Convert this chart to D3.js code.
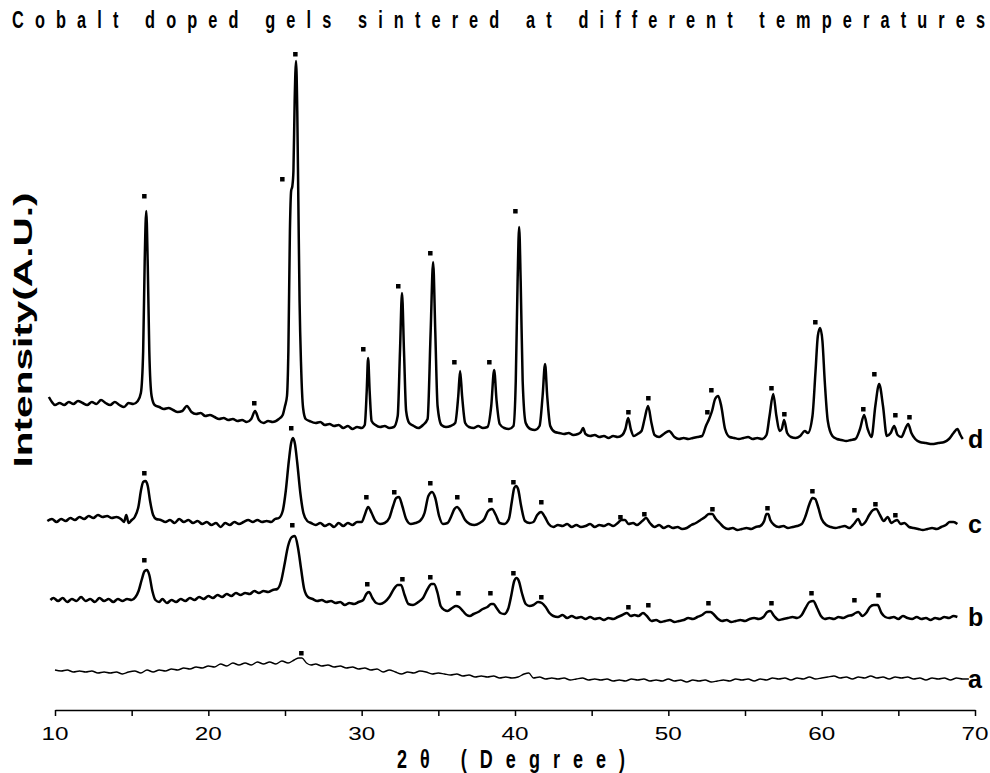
<!DOCTYPE html>
<html><head><meta charset="utf-8">
<script src="https://cdn.jsdelivr.net/npm/d3@7"></script>
<style>body{margin:0;background:#fff;} svg{display:block;}</style>
</head><body>
<svg id="chart" width="990" height="773"></svg>
<script>
// ---- DATA (2θ in degrees, intensity in A.U. relative to each pattern's own baseline) ----
const titleText = "Cobalt doped gels sintered at different temperatures";
const xAxisTitle = "2θ (Degree)";
const yAxisTitle = "Intensity(A.U.)";
const xTickValues = [10,15,20,25,30,35,40,45,50,55,60,65,70];
const xTickLabels = ["10","20","30","40","50","60","70"];
const patternNames = ["a","b","c","d"];
const patternOffsets = [40,111,190,309];

const patternA = [[10.0,0],[10.4,-1],[10.8,0],[11.2,-2],[11.6,-1],[12.0,-2],[12.4,-1],[12.8,-3],[13.2,-2],[13.6,-3],[14.0,-2],[14.4,-4],[14.8,-2],[15.2,-1],[15.6,-3],[16.0,0],[16.4,-2],[16.8,0],[17.2,-1],[17.6,1],[18.0,0],[18.4,2],[18.8,1],[19.2,3],[19.6,2],[20.0,4],[20.4,3],[20.8,6],[21.2,4],[21.6,7],[22.0,5],[22.4,7],[22.8,5],[23.2,8],[23.6,6],[24.0,8],[24.4,6],[24.8,9],[25.2,7],[25.6,10],[25.9,12],[26.1,12],[26.4,7],[26.7,5],[27.0,6],[27.4,4],[27.8,5],[28.2,3],[28.6,4],[29.0,2],[29.4,3],[29.8,1],[30.2,2],[30.6,0],[31.0,1],[31.4,-2],[31.8,0],[32.2,-2],[32.6,-4],[33.0,-2],[33.4,-3],[33.8,-1],[34.2,-2],[34.6,-4],[35.0,-3],[35.4,-4],[35.8,-5],[36.2,-4],[36.6,-6],[37.0,-5],[37.4,-7],[37.8,-6],[38.2,-7],[38.6,-6],[39.0,-8],[39.4,-7],[39.8,-8],[40.2,-7],[40.6,-4],[40.9,-3],[41.2,-8],[41.6,-7],[42.0,-9],[42.4,-8],[42.8,-9],[43.2,-8],[43.6,-10],[44.0,-9],[44.4,-8],[44.8,-10],[45.2,-9],[45.6,-10],[46.0,-9],[46.4,-11],[46.8,-10],[47.2,-11],[47.6,-9],[48.0,-10],[48.4,-9],[48.8,-11],[49.2,-10],[49.6,-11],[50.0,-9],[50.4,-11],[50.8,-10],[51.2,-12],[51.6,-10],[52.0,-11],[52.4,-10],[52.8,-12],[53.2,-11],[53.6,-10],[54.0,-11],[54.4,-9],[54.8,-10],[55.2,-9],[55.6,-11],[56.0,-9],[56.4,-10],[56.8,-8],[57.2,-9],[57.6,-8],[58.0,-10],[58.4,-8],[58.8,-9],[59.2,-7],[59.6,-9],[60.0,-8],[60.4,-7],[60.8,-6],[61.2,-8],[61.6,-7],[62.0,-9],[62.4,-7],[62.8,-8],[63.2,-6],[63.6,-8],[64.0,-7],[64.4,-9],[64.8,-7],[65.2,-8],[65.6,-7],[66.0,-9],[66.4,-8],[66.8,-10],[67.2,-8],[67.6,-9],[68.0,-8],[68.4,-10],[68.8,-8],[69.2,-9],[69.6,-9]];

const patternB = [[9.7,-1],[9.9,1],[10.2,-2],[10.5,1],[10.8,-3],[11.1,0],[11.4,-2],[11.7,2],[12.0,-2],[12.3,0],[12.6,-3],[12.9,1],[13.2,-2],[13.5,0],[13.8,-3],[14.1,0],[14.4,-2],[14.7,0],[15.0,-1],[15.25,2],[15.45,8],[15.65,19],[15.85,28],[16.0,29],[16.15,24],[16.35,8],[16.55,-1],[16.8,-3],[17.0,0],[17.3,-4],[17.6,-1],[17.9,-3],[18.2,0],[18.5,-2],[18.8,1],[19.1,-1],[19.4,2],[19.7,0],[20.0,3],[20.3,1],[20.6,4],[20.9,2],[21.2,5],[21.5,3],[21.8,6],[22.1,4],[22.4,6],[22.7,5],[23.0,8],[23.3,6],[23.6,8],[23.9,7],[24.2,9],[24.5,10],[24.75,18],[24.95,33],[25.2,53],[25.45,62],[25.65,63],[25.85,51],[26.05,30],[26.25,10],[26.5,2],[26.8,0],[27.1,-2],[27.4,-1],[27.7,-3],[28.0,-2],[28.3,-4],[28.6,-3],[28.9,-6],[29.2,-4],[29.5,-5],[29.8,-3],[30.1,-1],[30.3,5],[30.48,7],[30.7,1],[30.95,-4],[31.2,-5],[31.5,-3],[31.8,2],[32.1,10],[32.35,14],[32.57,14],[32.8,4],[33.05,-5],[33.35,-6],[33.7,-3],[34.0,1],[34.3,10],[34.55,15],[34.72,15],[34.95,6],[35.15,-7],[35.4,-11],[35.6,-12],[35.9,-9],[36.15,-7],[36.35,-8],[36.6,-12],[36.85,-16],[37.05,-17],[37.3,-15],[37.6,-13],[37.9,-10],[38.2,-8],[38.45,-5],[38.6,-5],[38.8,-9],[39.05,-14],[39.3,-15],[39.55,-10],[39.75,3],[39.95,18],[40.1,21],[40.25,18],[40.45,6],[40.7,-5],[40.95,-7],[41.2,-6],[41.5,-3],[41.75,-4],[42.0,-8],[42.25,-14],[42.5,-17],[42.8,-18],[43.1,-16],[43.4,-19],[43.7,-17],[44.0,-19],[44.3,-18],[44.6,-20],[44.9,-18],[45.2,-20],[45.5,-19],[45.8,-21],[46.1,-19],[46.4,-20],[46.7,-18],[47.0,-16],[47.3,-14],[47.55,-17],[47.8,-16],[48.05,-17],[48.35,-14],[48.6,-17],[48.9,-22],[49.2,-21],[49.5,-23],[49.8,-22],[50.1,-21],[50.4,-23],[50.7,-22],[51.0,-21],[51.3,-19],[51.6,-20],[51.9,-18],[52.2,-16],[52.5,-13],[52.75,-13],[53.0,-16],[53.25,-20],[53.5,-22],[53.8,-21],[54.1,-23],[54.4,-22],[54.7,-21],[55.0,-22],[55.3,-20],[55.6,-19],[55.9,-20],[56.2,-18],[56.45,-13],[56.65,-12],[56.9,-17],[57.2,-21],[57.5,-20],[57.8,-19],[58.1,-18],[58.4,-19],[58.7,-16],[58.95,-9],[59.2,-3],[59.45,-2],[59.7,-9],[59.95,-17],[60.2,-20],[60.5,-19],[60.8,-20],[61.1,-18],[61.4,-19],[61.7,-17],[62.0,-16],[62.2,-14],[62.4,-13],[62.65,-17],[62.9,-14],[63.15,-8],[63.4,-6],[63.65,-6],[63.9,-14],[64.15,-18],[64.4,-19],[64.7,-18],[65.0,-20],[65.3,-17],[65.6,-19],[65.9,-20],[66.2,-18],[66.5,-20],[66.8,-19],[67.1,-21],[67.4,-19],[67.7,-20],[68.0,-18],[68.3,-19],[68.6,-17],[68.85,-18]];

const patternC = [[9.5,-1],[9.8,1],[10.1,-2],[10.4,1],[10.7,-1],[11.0,2],[11.3,0],[11.6,3],[11.9,1],[12.2,4],[12.5,2],[12.8,5],[13.1,3],[13.4,4],[13.7,2],[14.0,3],[14.3,1],[14.5,-2],[14.65,5],[14.8,-3],[15.0,0],[15.2,3],[15.45,14],[15.6,29],[15.75,38],[15.9,39],[16.05,34],[16.2,19],[16.4,5],[16.6,1],[16.9,0],[17.2,-2],[17.5,0],[17.8,-3],[18.1,1],[18.4,-2],[18.7,0],[19.0,-3],[19.3,-1],[19.6,-4],[19.9,-2],[20.2,-5],[20.5,-3],[20.8,-7],[21.1,-3],[21.4,-5],[21.7,-2],[22.0,-4],[22.3,-2],[22.6,0],[22.9,-2],[23.2,0],[23.5,-2],[23.8,-1],[24.1,-2],[24.35,1],[24.6,2],[24.85,9],[25.05,29],[25.25,59],[25.4,77],[25.52,82],[25.65,76],[25.8,57],[26.0,27],[26.2,7],[26.45,-1],[26.7,-3],[27.0,-5],[27.3,-3],[27.6,-6],[27.9,-4],[28.2,-7],[28.5,-3],[28.8,-6],[29.1,-3],[29.4,-5],[29.7,-2],[30.0,-2],[30.2,5],[30.42,13],[30.65,7],[30.9,-1],[31.2,-4],[31.5,-3],[31.8,2],[32.05,14],[32.25,22],[32.44,23],[32.65,14],[32.9,1],[33.2,-4],[33.5,-3],[33.8,-1],[34.1,7],[34.35,24],[34.59,28],[34.8,22],[35.05,4],[35.3,-4],[35.6,-3],[35.85,4],[36.05,11],[36.22,13],[36.45,9],[36.75,0],[37.05,-4],[37.35,-5],[37.7,-3],[38.0,1],[38.25,9],[38.5,11],[38.75,5],[39.0,-3],[39.3,-4],[39.6,1],[39.8,19],[39.95,32],[40.07,34],[40.2,31],[40.4,14],[40.65,-1],[40.95,-3],[41.2,-2],[41.45,5],[41.7,8],[41.95,3],[42.2,-4],[42.5,-7],[42.8,-5],[43.1,-6],[43.4,-4],[43.7,-7],[44.0,-5],[44.3,-7],[44.6,-6],[44.9,-4],[45.2,-7],[45.5,-5],[45.8,-6],[46.1,-4],[46.4,-6],[46.7,-3],[46.95,0],[47.18,0],[47.4,-4],[47.7,-3],[47.95,-5],[48.3,-1],[48.55,2],[48.8,-3],[49.1,-7],[49.4,-5],[49.7,-8],[50.0,-6],[50.3,-8],[50.6,-7],[50.9,-9],[51.2,-8],[51.5,-5],[51.8,-3],[52.1,0],[52.4,3],[52.65,6],[52.86,6],[53.1,1],[53.35,-3],[53.6,-7],[53.9,-9],[54.2,-8],[54.5,-10],[54.8,-9],[55.1,-8],[55.4,-9],[55.7,-7],[56.0,-6],[56.25,-1],[56.4,6],[56.51,6],[56.65,0],[56.9,-5],[57.2,-7],[57.5,-6],[57.8,-8],[58.1,-7],[58.4,-6],[58.7,-4],[58.95,4],[59.2,16],[59.4,22],[59.58,21],[59.75,14],[60.0,1],[60.3,-5],[60.6,-7],[60.9,-8],[61.2,-7],[61.5,-6],[61.8,-8],[62.1,-4],[62.38,1],[62.6,-5],[62.85,-2],[63.1,5],[63.35,10],[63.56,11],[63.8,5],[64.05,-1],[64.3,3],[64.55,-3],[64.75,-1],[64.93,0],[65.15,-4],[65.4,-3],[65.7,-7],[66.0,-8],[66.3,-9],[66.6,-10],[66.9,-9],[67.2,-8],[67.5,-9],[67.8,-7],[68.1,-5],[68.35,-2],[68.6,-2],[68.85,-4]];

const patternD = [[9.6,4],[9.8,-1],[10.0,-4],[10.3,-2],[10.6,-4],[10.9,-1],[11.2,-3],[11.5,0],[11.8,-2],[12.1,-4],[12.4,-1],[12.7,-3],[13.0,1],[13.3,-2],[13.6,-4],[13.9,-1],[14.2,-4],[14.5,-6],[14.8,-2],[15.1,-3],[15.4,0],[15.6,8],[15.75,50],[15.85,140],[15.95,190],[16.05,135],[16.15,50],[16.3,5],[16.5,-4],[16.8,-6],[17.1,-8],[17.4,-7],[17.7,-9],[18.0,-11],[18.3,-10],[18.6,-5],[18.9,-11],[19.2,-13],[19.5,-12],[19.8,-15],[20.1,-14],[20.4,-16],[20.7,-18],[21.0,-17],[21.3,-19],[21.6,-18],[21.9,-20],[22.2,-19],[22.5,-21],[22.8,-18],[23.05,-10],[23.3,-19],[23.6,-22],[23.9,-20],[24.2,-21],[24.6,-18],[24.85,-14],[25.0,-5],[25.13,5],[25.22,50],[25.32,170],[25.4,210],[25.48,215],[25.55,230],[25.63,300],[25.72,340],[25.8,290],[25.87,200],[25.95,100],[26.05,35],[26.18,-7],[26.35,-18],[26.6,-20],[27.0,-22],[27.3,-21],[27.6,-24],[27.9,-23],[28.2,-25],[28.5,-24],[28.8,-27],[29.1,-25],[29.4,-28],[29.7,-26],[30.0,-27],[30.2,-24],[30.33,10],[30.42,43],[30.52,10],[30.65,-20],[30.9,-24],[31.2,-26],[31.5,-25],[31.8,-27],[32.1,-26],[32.35,-15],[32.5,50],[32.63,108],[32.76,50],[32.9,-10],[33.1,-22],[33.4,-25],[33.7,-27],[34.0,-24],[34.3,-18],[34.5,70],[34.66,139],[34.8,70],[34.95,-5],[35.2,-24],[35.5,-26],[35.8,-25],[36.1,-22],[36.3,5],[36.42,30],[36.55,5],[36.75,-22],[37.0,-26],[37.3,-27],[37.6,-25],[37.9,-27],[38.2,-26],[38.45,-5],[38.64,31],[38.8,0],[39.0,-23],[39.3,-27],[39.6,-28],[39.9,-25],[40.05,20],[40.17,120],[40.27,174],[40.37,120],[40.5,20],[40.7,-22],[41.0,-28],[41.3,-29],[41.6,-25],[41.8,5],[41.96,37],[42.1,5],[42.3,-25],[42.6,-31],[42.9,-32],[43.2,-33],[43.5,-32],[43.8,-34],[44.1,-33],[44.3,-31],[44.44,-27],[44.6,-33],[44.9,-35],[45.2,-34],[45.5,-36],[45.8,-35],[46.1,-37],[46.4,-35],[46.7,-36],[47.0,-34],[47.2,-28],[47.38,-17],[47.55,-28],[47.75,-35],[48.0,-33],[48.25,-30],[48.45,-18],[48.68,-5],[48.9,-22],[49.1,-34],[49.4,-36],[49.7,-33],[50.05,-30],[50.4,-36],[50.7,-38],[51.0,-37],[51.3,-38],[51.6,-37],[51.9,-36],[52.2,-35],[52.45,-25],[52.66,-18],[52.85,-10],[53.05,2],[53.25,5],[53.45,-5],[53.7,-28],[54.0,-36],[54.3,-37],[54.6,-38],[54.9,-37],[55.2,-36],[55.5,-38],[55.8,-37],[56.1,-38],[56.4,-34],[56.6,-15],[56.84,7],[57.05,-15],[57.25,-30],[57.4,-28],[57.55,-19],[57.75,-32],[58.0,-36],[58.3,-37],[58.6,-35],[58.9,-30],[59.1,-32],[59.4,-15],[59.6,30],[59.75,65],[59.9,73],[60.05,60],[60.2,20],[60.4,-20],[60.7,-35],[61.0,-38],[61.3,-39],[61.6,-40],[61.9,-39],[62.2,-38],[62.5,-28],[62.77,-14],[63.0,-28],[63.25,-36],[63.5,-5],[63.75,17],[64.0,-5],[64.25,-35],[64.5,-32],[64.73,-25],[64.95,-34],[65.2,-36],[65.45,-28],[65.64,-23],[65.85,-32],[66.1,-38],[66.4,-41],[66.8,-42],[67.2,-43],[67.6,-42],[68.0,-41],[68.3,-38],[68.6,-32],[68.85,-28],[69.05,-34],[69.2,-38]];

// peak markers (2θ, intensity relative to baseline)
const markersA = [[26.05,17]];
const markersB = [[15.81,39],[25.46,74],[30.35,15],[32.64,20],[34.46,22],[36.29,6],[38.38,6],[39.88,26],[41.7,2],[47.38,-8],[48.68,-6],[52.6,-4],[56.71,-4],[59.32,6],[62.12,-1],[63.69,4]];
const markersC = [[15.81,47],[25.39,92],[30.29,23],[32.11,28],[34.46,37],[36.22,23],[38.38,20],[39.88,38],[41.7,18],[46.86,3],[48.42,6],[52.86,11],[56.45,12],[59.38,29],[62.12,10],[63.49,16],[64.79,5]];
const markersD = [[15.81,205],[22.98,-2],[24.81,222],[25.66,347],[30.09,52],[32.37,115],[34.46,148],[36.03,39],[38.31,39],[40.01,190],[47.38,-11],[48.68,3],[52.53,-11],[52.79,11],[56.71,13],[57.55,-13],[59.57,79],[62.7,-8],[63.42,27],[64.79,-14],[65.71,-16]];

// ---- CHART ----
const svg = d3.select("#chart");
const x = d3.scaleLinear().domain([10,70]).range([55,975]);
const y = d3.scaleLinear().domain([0,660]).range([710,50]);

const patterns = [patternA, patternB, patternC, patternD];
const markers = [markersA, markersB, markersC, markersD];
const strokeW = [1.4, 2.5, 2.5, 2.5];

const g = svg.append("g");
patterns.forEach((pts, i) => {
  const off = patternOffsets[i];
  const line = d3.line().x(d => x(d[0])).y(d => y(off + d[1])).curve(d3.curveMonotoneX);
  g.append("path").datum(pts)
    .attr("fill","none").attr("stroke","#000")
    .attr("stroke-width", strokeW[i]).attr("stroke-linejoin","round")
    .attr("d", line);
  g.selectAll(null).data(markers[i]).enter().append("rect")
    .attr("x", d => x(d[0]) - 2).attr("y", d => y(off + d[1]) - 2)
    .attr("width", 4.5).attr("height", 4.5).attr("fill","#000");
  const last = pts[pts.length - 1];
  g.append("text").attr("x", 968).attr("y", y(off + last[1]) + 9)
    .attr("font-family","Liberation Sans, Arial, sans-serif").attr("font-weight","bold")
    .attr("font-size", 25).attr("fill","#000").text(patternNames[i]);
});

// x axis
const axis = d3.axisBottom(x).tickValues(xTickValues).tickSize(6).tickSizeOuter(0).tickFormat("");
const ax = svg.append("g").attr("transform", `translate(0,${y(0)})`).call(axis);
ax.select(".domain").attr("stroke","#000").attr("stroke-width",1.5);
ax.selectAll(".tick line").attr("stroke","#000").attr("stroke-width",1.5);

svg.append("g").selectAll("text").data(xTickLabels).enter().append("text")
  .attr("transform", d => `translate(${x(+d)},${y(0) + 30}) scale(1.35,1)`)
  .attr("text-anchor","middle")
  .attr("font-family","Liberation Sans, Arial, sans-serif").attr("font-size",18)
  .attr("fill","#000").text(d => d);

// x axis title
svg.append("g").attr("transform", "translate(397,768) scale(0.72,1)")
  .append("text").attr("x",0).attr("y",0)
  .attr("textLength", 228/0.72).attr("lengthAdjust","spacing")
  .attr("font-family","Liberation Sans Narrow, Arial Narrow, Liberation Sans, Arial, sans-serif")
  .attr("font-weight","bold").attr("font-size",25).attr("fill","#000")
  .text(xAxisTitle);

// y axis title
svg.append("text").attr("transform","translate(32,330) rotate(-90)")
  .attr("text-anchor","middle")
  .attr("textLength", 275).attr("lengthAdjust","spacingAndGlyphs")
  .attr("font-family","Liberation Sans, Arial, sans-serif").attr("font-weight","bold")
  .attr("font-size",25).attr("fill","#000").text(yAxisTitle);

// title
svg.append("g").attr("transform","translate(12,28) scale(0.68,1)")
  .append("text").attr("x",0).attr("y",0)
  .attr("textLength", 973/0.68).attr("lengthAdjust","spacing")
  .attr("font-family","Liberation Sans Narrow, Arial Narrow, Liberation Sans, Arial, sans-serif")
  .attr("font-weight","bold").attr("font-size",24).attr("fill","#000")
  .text(titleText);
</script>
</body></html>
